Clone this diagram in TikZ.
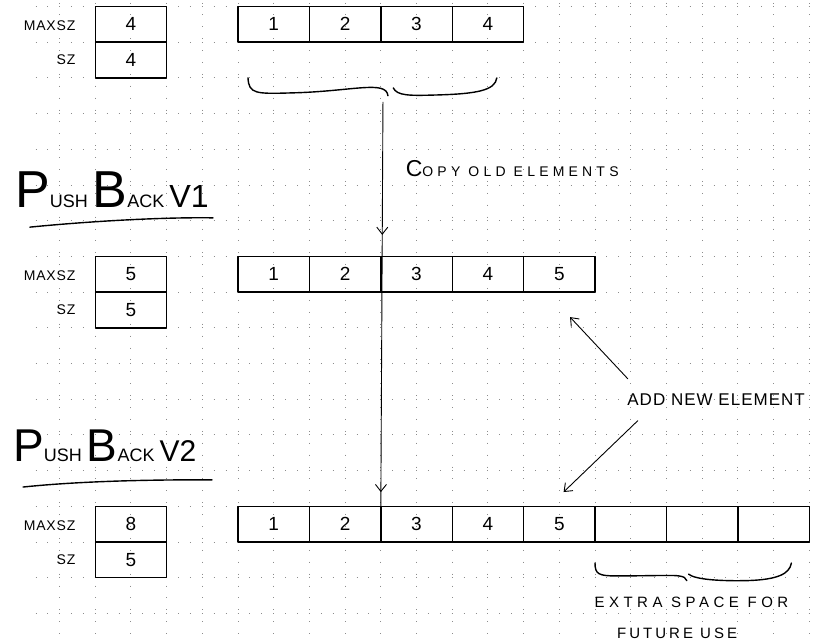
\documentclass[tikz,border=0pt]{standalone}
\usepackage{fontspec}
\setmainfont{Liberation Sans}
\newfontfamily\hand[LetterSpace=20]{Liberation Sans}
\newfontfamily\handwide[LetterSpace=30]{Liberation Sans}
\newfontfamily\handtight[LetterSpace=6]{Liberation Sans}
\usetikzlibrary{arrows.meta, decorations.markings}

\begin{document}
\begin{tikzpicture}[x=35.7pt, y=-35.7pt,
  >={Straight Barb[length=7pt, width=11pt]},
  pen/.style={line width=1.4pt, line cap=round, line join=round},
  cell/.style={draw, pen, minimum width=71.4pt, minimum height=35.7pt,
    inner sep=0pt, outer sep=0pt, font=\fontsize{19}{19}\selectfont},
  lbl/.style={font=\handtight\fontsize{14}{14}\selectfont, anchor=east, inner sep=0pt},
  note/.style={font=\hand\fontsize{15}{15}\selectfont, inner sep=0pt},
  heading/.style={font=\fontsize{18}{18}\selectfont, anchor=base west, inner sep=0pt},
  arr/.style={line width=0.9pt, line cap=round, ->},
  gridline/.style={black!45, line width=1pt, dash pattern=on 1pt off 10.9pt, dash phase=0.5pt}
]

  \useasboundingbox (-0.667,-0.182) rectangle (22.218,17.773);

  % Dotted paper
  \foreach \j in {0,...,17}
    \draw[gridline] (0.333,\j) -- (22.2,\j);
  \foreach \k in {1,...,22}
    \draw[gridline] (\k,-0.1) -- (\k,17.77);

  % maxsz / sz fields of each vector
  \foreach \name/\row/\m/\s in {old/0/4/4, vone/7/5/5, vtwo/14/8/5}{
    \node[cell] (\name-max) at (3,\row+0.5) {\m};
    \node[cell] (\name-sz) at (3,\row+1.5) {\s};
    \node[lbl] (\name-maxlbl) at (1.45,\row+0.55) {MAXSZ};
    \node[lbl] (\name-szlbl) at (1.45,\row+1.5) {SZ};
  }

  % Element buffers
  \foreach \v [count=\i] in {1,2,3,4}
    \node[cell] (old-\i) at (5+2*\i,0.5) {\v};
  \foreach \v [count=\i] in {1,2,3,4,5}
    \node[cell] (vone-\i) at (5+2*\i,7.5) {\v};
  \foreach \v [count=\i] in {1,2,3,4,5,{},{},{}}
    \node[cell] (vtwo-\i) at (5+2*\i,14.5) {\v};

  % Brace under the old buffer
  \coordinate (old-tip) at (10.2,2.5);
  \draw[pen] (6.28,2.0) .. controls (6.3,2.45) and (6.5,2.45) .. (7.5,2.42)
    .. controls (9.2,2.38) and (10.15,2.05) .. (old-tip);
  \draw[pen] (10.35,2.28) .. controls (10.45,2.5) and (10.8,2.5) .. (11.5,2.48)
    .. controls (12.7,2.45) and (13.2,2.35) .. (13.25,2.0);

  % Copy arrow down through both new buffers
  \coordinate (copy-from) at (10.06,2.67);
  \draw[line width=0.9pt, postaction={decorate}, decoration={markings,
      mark=at position 0.329 with {\arrow{>}},
      mark=at position 0.965 with {\arrow{>}}}]
    (copy-from) -- (vtwo-2.north east);
  \node[note, font=\handwide\fontsize{14}{14}\selectfont] (copy) at (13.68,4.55)
    {{\fontsize{23}{23}\selectfont C}OPY OLD ELEMENTS};

  % Headings
  \node[heading] (vone-title) at (-0.25,5.62)
    {{\fontsize{52}{52}\selectfont P}USH {\fontsize{52}{52}\selectfont B}ACK {\fontsize{32}{32}\selectfont V1}};
  \draw[pen] (0.17,6.18) .. controls (2,6.0) and (4,5.9) .. (5.3,5.92);
  \node[heading] (vtwo-title) at (-0.3,12.75)
    {{\fontsize{46}{46}\selectfont P}USH {\fontsize{46}{46}\selectfont B}ACK {\fontsize{30}{30}\selectfont V2}};
  \draw[pen] (-0.02,13.46) .. controls (1.5,13.3) and (3.5,13.25) .. (5.27,13.26);

  % New element
  \node[note, font=\handtight\fontsize{17}{17}\selectfont, anchor=west] (add) at (16.9,11.0)
    {ADD NEW ELEMENT};
  \coordinate (add-up) at (16.92,10.43);
  \coordinate (add-down) at (17.2,11.6);
  \draw[arr] (add-up) -- ([shift={(0.3,0.7)}]vone-5.south);
  \draw[arr] (add-down) -- ([shift={(0.12,-0.4)}]vtwo-5.north);

  % Spare capacity
  \coordinate (extra-tip) at (18.57,16.08);
  \draw[pen] (16.0,15.59) .. controls (16.0,15.9) and (16.1,15.95) .. (16.6,15.95)
    .. controls (17.5,15.95) and (18.2,15.92) .. (18.35,15.95)
    .. controls (18.48,15.97) and (18.55,16.0) .. (extra-tip);
  \draw[pen] (18.62,15.9) .. controls (18.8,16.05) and (19.5,16.1) .. (20.3,16.08)
    .. controls (21.1,16.05) and (21.45,15.9) .. (21.5,15.59);
  \node[note, font=\handwide\fontsize{15}{15}\selectfont] (extra) at (18.7,16.7) {EXTRA SPACE FOR};
  \node[note] (future) at (18.3,17.55) {FUTURE USE};

\end{tikzpicture}
\end{document}
